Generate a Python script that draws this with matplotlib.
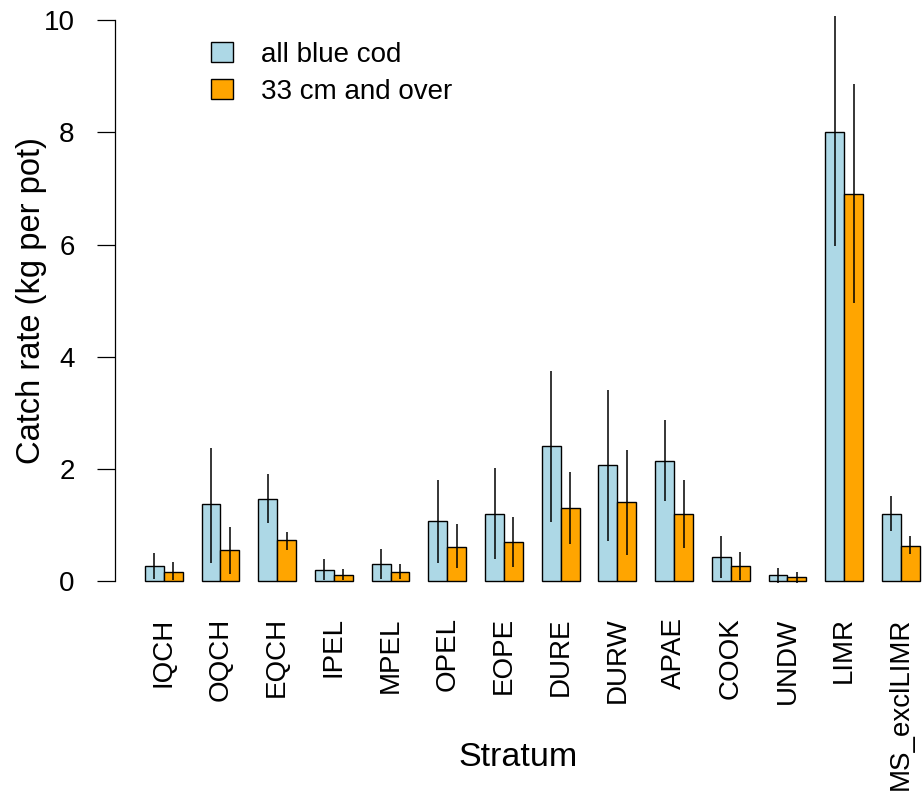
import numpy as np
import matplotlib
matplotlib.use("Agg")
import matplotlib.pyplot as plt
from matplotlib.patches import Patch

plt.rcParams['font.family'] = ['Liberation Sans', 'DejaVu Sans']

# Strata and catch rates (kg per pot) with interval limits
strata = ['IQCH', 'OQCH', 'EQCH', 'IPEL', 'MPEL', 'OPEL', 'EOPE',
          'DURE', 'DURW', 'APAE', 'COOK', 'UNDW', 'LIMR', 'MS_exclLIMR']
all_mean = [0.27, 1.37, 1.47, 0.20, 0.30, 1.07, 1.20, 2.41, 2.07, 2.14, 0.43, 0.10, 8.00, 1.20]
all_lo = [0.03, 0.33, 1.03, 0.02, 0.03, 0.33, 0.39, 1.06, 0.72, 1.42, 0.05, -0.04, 5.97, 0.89]
all_hi = [0.50, 2.38, 1.90, 0.40, 0.57, 1.81, 2.01, 3.75, 3.41, 2.88, 0.81, 0.24, 10.07, 1.51]
big_mean = [0.17, 0.56, 0.73, 0.10, 0.17, 0.60, 0.70, 1.30, 1.41, 1.20, 0.27, 0.07, 6.91, 0.63]
big_lo = [0.01, 0.12, 0.56, 0.01, 0.03, 0.23, 0.25, 0.66, 0.46, 0.59, 0.02, -0.04, 4.96, 0.49]
big_hi = [0.34, 0.97, 0.87, 0.21, 0.31, 1.01, 1.14, 1.94, 2.34, 1.81, 0.51, 0.17, 8.86, 0.80]

series_labels = ['all blue cod', '33 cm and over']
colors = ['lightblue', 'orange']

fig = plt.figure(figsize=(9.22, 7.94), dpi=100)
ax = fig.add_axes([0.12473, 0.2435, 0.8753, 0.7557])

# R-style beside barplot: width 1, one unit gap between groups
n = len(strata)
x_all = np.arange(n) * 3 + 1.5
x_big = x_all + 1.0

ax.bar(x_all, all_mean, width=1.0, color=colors[0], edgecolor='black', linewidth=1.0, zorder=2)
ax.bar(x_big, big_mean, width=1.0, color=colors[1], edgecolor='black', linewidth=1.0, zorder=2)
ax.vlines(x_all, all_lo, all_hi, color='black', linewidth=1.1, zorder=3, clip_on=False)
ax.vlines(x_big, big_lo, big_hi, color='black', linewidth=1.1, zorder=3, clip_on=False)

ax.set_xlim(-0.582, 42.12)
ax.set_ylim(-0.35, 10.35)

for s in ['top', 'right', 'bottom']:
    ax.spines[s].set_visible(False)
ax.spines['left'].set_bounds(0, 10)
ax.spines['left'].set_linewidth(0.9)

ax.set_yticks([0, 2, 4, 6, 8, 10])
ax.tick_params(axis='y', labelsize=20, length=13, width=0.9, pad=16)
ax.set_xticks(x_all + 0.5)
ax.set_xticklabels(strata, rotation=90, fontsize=20)
ax.tick_params(axis='x', length=0, pad=12)

ax.set_ylabel('Catch rate (kg per pot)', fontsize=23.5)
ax.yaxis.set_label_coords(-0.084, 0.5)
ax.set_xlabel('Stratum', fontsize=24.5)
ax.xaxis.set_label_coords(0.5, -0.235)

handles = [Patch(facecolor=c, edgecolor='black', linewidth=1.0) for c in colors]
ax.legend(handles, series_labels, loc='upper left', bbox_to_anchor=(0.105, 0.95),
          frameon=False, fontsize=20, handlelength=0.8, handleheight=0.72,
          handletextpad=1.0, labelspacing=0.4, borderaxespad=0)

fig.savefig('out.png', dpi=100)
